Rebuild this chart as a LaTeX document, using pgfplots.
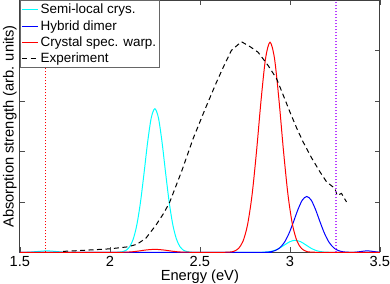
\documentclass[border=0pt]{standalone}
\usepackage{pgfplots}
\pgfplotsset{compat=1.18}
\usepackage{fontspec}
\setmainfont{Liberation Sans}
\definecolor{vline}{rgb}{0.72,0.25,1}
\definecolor{mycyan}{rgb}{0,1,1}
\definecolor{myblue}{rgb}{0,0,1}
\definecolor{myred}{rgb}{1,0,0}
\begin{document}
\begin{tikzpicture}
\begin{axis}[
  scale only axis,
  width=360bp, height=252bp,
  xmin=1.5, xmax=3.5, ymin=0, ymax=5,
  xtick={1.5,2,2.5,3,3.5},
  xticklabels={1.5,2,2.5,3,3.5},
  ytick={1,2,3,4}, yticklabels={},
  tick pos=both, tick align=inside,
  major tick length=5bp,
  tick style={black!70, line width=0.6pt},
  axis line style={black!75, line width=0.8pt},
  /pgf/number format/assume math mode=true,
  ticklabel style={font=\fontsize{14.7}{17}\selectfont},
  xticklabel style={inner sep=0pt, yshift=-4bp},
  label style={font=\fontsize{14.7}{17}\selectfont},
  xlabel={Energy (eV)},
  ylabel={Absorption strength (arb. units)},
  xlabel style={at={(axis description cs:0.5,0)}, anchor=north, inner sep=0pt, yshift=-17bp},
  ylabel style={at={(axis description cs:0,0.5)}, anchor=south, inner sep=3bp, yshift=0bp},
  legend cell align=left,
  legend image code/.code={\draw[#1] (0bp,0bp) -- (16bp,0bp);},
  legend style={at={(0,1)}, anchor=north west, draw=black!60, line width=0.6pt,
    font=\fontsize{13.5}{16}\selectfont, inner sep=1.5bp, row sep=1bp},
]
% cyan: semi-local crystal
\addplot[draw=mycyan, line width=1pt, smooth] coordinates {
(1.5,0) (1.55,0.004) (1.6,0.018) (1.65,0.03) (1.7,0.018) (1.75,0.004) (1.8,0) (2.0,0)
(2.05,0.004) (2.07,0.013) (2.09,0.041) (2.11,0.112) (2.13,0.264) (2.15,0.546) (2.17,0.990)
(2.19,1.572) (2.21,2.188) (2.23,2.668) (2.25,2.85) (2.27,2.668) (2.29,2.188) (2.31,1.572)
(2.33,0.990) (2.35,0.546) (2.37,0.264) (2.39,0.112) (2.41,0.041) (2.43,0.013) (2.45,0.004)
(2.5,0) (2.8,0)
(2.85,0.003) (2.88,0.011) (2.91,0.032) (2.94,0.078) (2.97,0.146) (3.00,0.212) (3.03,0.24)
(3.06,0.212) (3.09,0.146) (3.12,0.078) (3.15,0.032) (3.18,0.011) (3.21,0.003)
(3.3,0) (3.5,0)
};
\addlegendentry{Semi-local crys.}
% blue: hybrid dimer
\addplot[draw=myblue, line width=1pt, smooth] coordinates {
(1.5,0) (2.8,0)
(2.869,0.004) (2.894,0.013) (2.919,0.037) (2.944,0.091) (2.969,0.195) (2.994,0.365)
(3.019,0.593) (3.044,0.840) (3.069,1.035) (3.094,1.11) (3.119,1.035) (3.144,0.840)
(3.169,0.593) (3.194,0.365) (3.219,0.195) (3.244,0.091) (3.269,0.037) (3.294,0.013)
(3.319,0.004) (3.35,0) (3.38,0.01) (3.43,0.03) (3.48,0.01) (3.5,0.004)
};
\addlegendentry{Hybrid dimer}
% red: crystal spec. warp.
\addplot[draw=myred, line width=1pt, smooth] coordinates {
(1.5,0) (2.0,0) (2.1,0.006) (2.15,0.022) (2.2,0.047) (2.25,0.06) (2.3,0.047) (2.35,0.022)
(2.4,0.006) (2.5,0) (2.6,0)
(2.665,0.006) (2.69,0.023) (2.715,0.078) (2.74,0.223) (2.765,0.546) (2.79,1.136)
(2.815,2.006) (2.84,3.012) (2.865,3.844) (2.89,4.17) (2.915,3.844) (2.94,3.012)
(2.965,2.006) (2.99,1.136) (3.015,0.546) (3.04,0.223) (3.065,0.078) (3.09,0.023)
(3.115,0.006) (3.2,0) (3.5,0)
};
\addlegendentry{Crystal spec. warp.}
% experiment
\addplot[draw=black, line width=1pt, dash pattern=on 5bp off 3.5bp] coordinates {
(1.74,0.02) (1.8,0.03) (1.9,0.05) (2.0,0.07) (2.1,0.11) (2.15,0.16) (2.2,0.28)
(2.256,0.54) (2.3,0.78) (2.333,1.00) (2.4,1.62) (2.463,2.26) (2.53,2.85) (2.593,3.38)
(2.64,3.75) (2.676,4.01) (2.731,4.18) (2.78,4.08) (2.824,3.97) (2.879,3.71) (2.926,3.45)
(2.96,3.15) (3.0,2.79) (3.04,2.45) (3.074,2.19) (3.12,1.88) (3.167,1.60) (3.204,1.40)
(3.25,1.27) (3.263,1.13) (3.287,1.17) (3.315,1.00)
};
\addlegendentry{Experiment}
% vertical dotted lines
\addplot[draw=myred, line width=1.2bp, dash pattern=on 1.2bp off 1.8bp, forget plot] coordinates {(1.644,0) (1.644,5)};
\addplot[draw=vline, line width=1.2bp, dash pattern=on 1.2bp off 1.8bp, forget plot] coordinates {(3.257,0) (3.257,5)};
\end{axis}
\end{tikzpicture}
\end{document}
